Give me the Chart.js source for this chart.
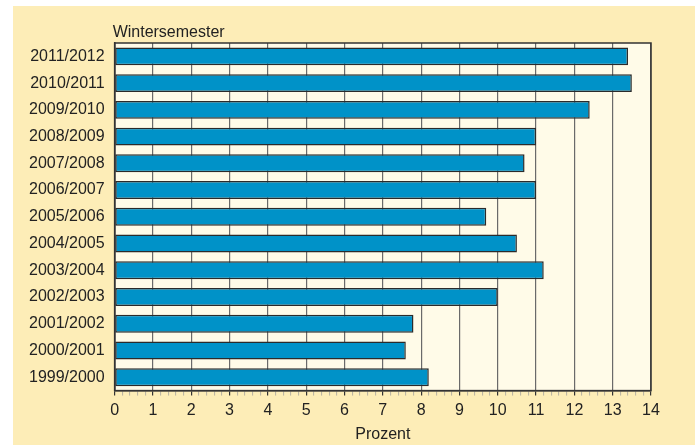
<!DOCTYPE html>
<html>
<head>
<meta charset="utf-8">
<script src="https://cdn.jsdelivr.net/npm/chart.js@4"></script>
<style>
  html, body { margin: 0; padding: 0; background: #ffffff; }
  #wrap {
    position: absolute; left: 13px; top: 6px;
    width: 682px; height: 439px;
    background: #fdedb7;
  }
</style>
</head>
<body>
<div id="wrap"><canvas id="chart"></canvas></div>
<script>
// Wintersemester, oldest first
const semesters = ['1999/2000', '2000/2001', '2001/2002', '2002/2003', '2003/2004', '2004/2005',
                   '2005/2006', '2006/2007', '2007/2008', '2008/2009', '2009/2010', '2010/2011', '2011/2012'];
const percent = [8.2, 7.6, 7.8, 10.0, 11.2, 10.5, 9.7, 11.0, 10.7, 11.0, 12.4, 13.5, 13.4];
const xMin = 0;
const xMax = 14;

const isWhole = v => Math.abs(v - Math.round(v)) < 1e-6;

// cream plot background + frame + the "Wintersemester" caption
const plotFrame = {
  id: 'plotFrame',
  beforeDraw(chart) {
    const { ctx, chartArea: a } = chart;
    ctx.save();
    ctx.fillStyle = '#fffbe8';
    ctx.fillRect(a.left, a.top, a.right - a.left, a.bottom - a.top);
    ctx.restore();
  },
  afterDraw(chart) {
    const { ctx, chartArea: a } = chart;
    ctx.save();
    ctx.strokeStyle = '#333333';
    ctx.lineWidth = 1.5;
    ctx.strokeRect(a.left, a.top, a.right - a.left, a.bottom - a.top);
    ctx.fillStyle = '#222222';
    ctx.font = '16px "Liberation Sans", Arial, sans-serif';
    ctx.textAlign = 'left';
    ctx.textBaseline = 'bottom';
    ctx.fillText('Wintersemester', a.left - 2, a.top - 2);
    ctx.restore();
  }
};

new Chart(document.getElementById('chart'), {
  type: 'bar',
  data: {
    labels: semesters,
    datasets: [{
      data: percent,
      backgroundColor: '#0092c8',
      borderColor: '#2b2b2b',
      borderWidth: 1.5,
      borderSkipped: false,
      barPercentage: 0.67,
      categoryPercentage: 1.0
    }]
  },
  options: {
    indexAxis: 'y',
    responsive: true,
    maintainAspectRatio: false,
    animation: false,
    layout: { padding: { left: 6, right: 44, top: 37, bottom: 1 } },
    plugins: {
      legend: { display: false },
      tooltip: { enabled: false }
    },
    scales: {
      x: {
        min: xMin,
        max: xMax,
        border: { display: true, color: '#333333', width: 1.5 },
        grid: {
          color: c => isWhole(c.tick.value) ? '#6a6a6a' : 'transparent',
          lineWidth: 1.2,
          tickLength: 5,
          tickColor: c => isWhole(c.tick.value) ? '#333333' : '#9a9a9a',
          tickWidth: c => isWhole(c.tick.value) ? 1.2 : 0.7
        },
        ticks: {
          stepSize: 0.2,
          autoSkip: false,
          maxRotation: 0,
          padding: 5,
          color: '#222222',
          font: { family: '"Liberation Sans", Arial, sans-serif', size: 16 },
          callback: v => isWhole(v) ? String(Math.round(v)) : ''
        },
        title: {
          display: true,
          text: 'Prozent',
          color: '#222222',
          padding: { top: 0, bottom: 0 },
          font: { family: '"Liberation Sans", Arial, sans-serif', size: 16 }
        }
      },
      y: {
        reverse: true,
        border: { display: true, color: '#333333', width: 1.5 },
        grid: { display: false, drawTicks: false },
        ticks: {
          padding: 10,
          color: '#222222',
          font: { family: '"Liberation Sans", Arial, sans-serif', size: 16 }
        }
      }
    }
  },
  plugins: [plotFrame]
});
</script>
</body>
</html>
